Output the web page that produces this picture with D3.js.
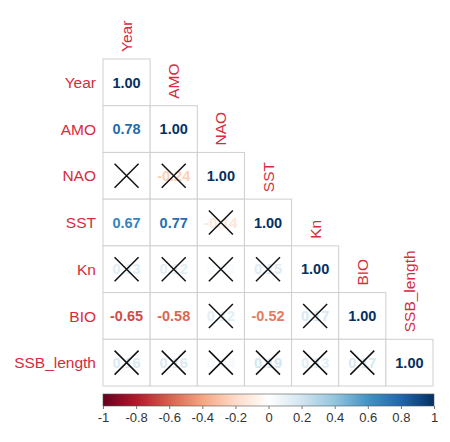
<!DOCTYPE html>
<html>
<head>
<meta charset="utf-8">
<script src="https://cdn.jsdelivr.net/npm/d3@7"></script>
<style>
  body { margin: 0; background: #fff; }
  text { font-family: "Liberation Sans", Arial, sans-serif; }
</style>
</head>
<body>
<svg id="chart" width="450" height="442"></svg>
<script>
// variables (rows / columns)
var vars = ["Year", "AMO", "NAO", "SST", "Kn", "BIO", "SSB_length"];

// lower triangle correlations, row by row
var corr = [
  [1.00],
  [0.78, 1.00],
  [0.02, -0.24, 1.00],
  [0.67, 0.77, -0.14, 1.00],
  [0.13, 0.12, 0.03, 0.15, 1.00],
  [-0.65, -0.58, 0.12, -0.52, 0.17, 1.00],
  [0.16, 0.16, 0.04, 0.19, 0.13, 0.17, 1.00]
];

// 1 = not significant (crossed out)
var insig = [
  [0],
  [0, 0],
  [1, 1, 0],
  [0, 0, 1, 0],
  [1, 1, 1, 1, 0],
  [0, 0, 1, 0, 1, 0],
  [1, 1, 1, 1, 1, 1, 0]
];

var barTicks = [-1, -0.8, -0.6, -0.4, -0.2, 0, 0.2, 0.4, 0.6, 0.8, 1];
var palette = ["#67001F", "#B2182B", "#D6604D", "#F4A582", "#FDDBC7", "#FFFFFF",
               "#D1E5F0", "#92C5DE", "#4393C3", "#2166AC", "#053061"];

var svg = d3.select("#chart");
var color = d3.scaleLinear().domain(barTicks).range(palette);

var x = d3.scaleBand().domain(vars).range([103, 433]);
var y = d3.scaleBand().domain(vars).range([59, 386]);

var cells = [];
corr.forEach(function(row, i) {
  row.forEach(function(v, j) {
    cells.push({ r: vars[i], c: vars[j], v: v, x: insig[i][j] });
  });
});

var g = svg.append("g");

g.selectAll("rect.cell")
  .data(cells)
  .enter().append("rect")
  .attr("class", "cell")
  .attr("x", function(d) { return x(d.c); })
  .attr("y", function(d) { return y(d.r); })
  .attr("width", x.bandwidth())
  .attr("height", y.bandwidth())
  .attr("fill", "#fff")
  .attr("stroke", "#cfcfcf")
  .attr("stroke-width", 1);

g.selectAll("text.val")
  .data(cells)
  .enter().append("text")
  .attr("class", "val")
  .attr("x", function(d) { return x(d.c) + x.bandwidth() / 2; })
  .attr("y", function(d) { return y(d.r) + y.bandwidth() / 2; })
  .attr("dy", "0.36em")
  .attr("text-anchor", "middle")
  .attr("font-size", 14.5)
  .attr("font-weight", "bold")
  .attr("fill", function(d) { return color(d.v); })
  .text(function(d) { return d.v.toFixed(2); });

var crossed = cells.filter(function(d) { return d.x; });
var h = 12;
g.selectAll("path.cross")
  .data(crossed)
  .enter().append("path")
  .attr("class", "cross")
  .attr("d", function(d) {
    var cx = x(d.c) + x.bandwidth() / 2, cy = y(d.r) + y.bandwidth() / 2;
    return "M" + (cx - h) + "," + (cy - h) + "L" + (cx + h) + "," + (cy + h) +
           "M" + (cx - h) + "," + (cy + h) + "L" + (cx + h) + "," + (cy - h);
  })
  .attr("stroke", "#111")
  .attr("stroke-width", 1.5)
  .attr("fill", "none");

// row labels
svg.selectAll("text.rlab")
  .data(vars)
  .enter().append("text")
  .attr("class", "rlab")
  .attr("x", 96)
  .attr("y", function(d) { return y(d) + y.bandwidth() / 2; })
  .attr("dy", "0.36em")
  .attr("text-anchor", "end")
  .attr("font-size", 15.5)
  .attr("fill", "#d62b3c")
  .text(function(d) { return d; });

// column labels above the diagonal
svg.selectAll("text.clab")
  .data(vars)
  .enter().append("text")
  .attr("class", "clab")
  .attr("transform", function(d) {
    return "translate(" + (x(d) + x.bandwidth() / 2 + 5.5) + "," + (y(d) - 7) + ") rotate(-90)";
  })
  .attr("text-anchor", "start")
  .attr("font-size", 15.5)
  .attr("fill", "#d62b3c")
  .text(function(d) { return d; });

// colour bar
var bx = d3.scaleLinear().domain([-1, 1]).range([103, 434]);
var defs = svg.append("defs");
var grad = defs.append("linearGradient").attr("id", "cbar");
grad.selectAll("stop")
  .data(barTicks)
  .enter().append("stop")
  .attr("offset", function(d) { return ((d + 1) / 2 * 100) + "%"; })
  .attr("stop-color", function(d) { return color(d); });

svg.append("rect")
  .attr("x", bx(-1))
  .attr("y", 394)
  .attr("width", bx(1) - bx(-1))
  .attr("height", 12)
  .attr("fill", "url(#cbar)")
  .attr("stroke", "#555")
  .attr("stroke-width", 0.6);

var axis = d3.axisBottom(bx)
  .tickValues(barTicks)
  .tickSize(3)
  .tickPadding(4)
  .tickFormat(function(d) { return d3.format("")(d); });

var ag = svg.append("g")
  .attr("transform", "translate(0,406)")
  .call(axis);
ag.select(".domain").remove();
ag.selectAll("line").attr("stroke", "#777");
ag.selectAll("text")
  .attr("font-size", 13)
  .attr("fill", "#333")
  .attr("font-family", "Liberation Sans, Arial, sans-serif")
  .text(function(d) { return d3.format("")(d).replace("\u2212", "-"); });
</script>
</body>
</html>
